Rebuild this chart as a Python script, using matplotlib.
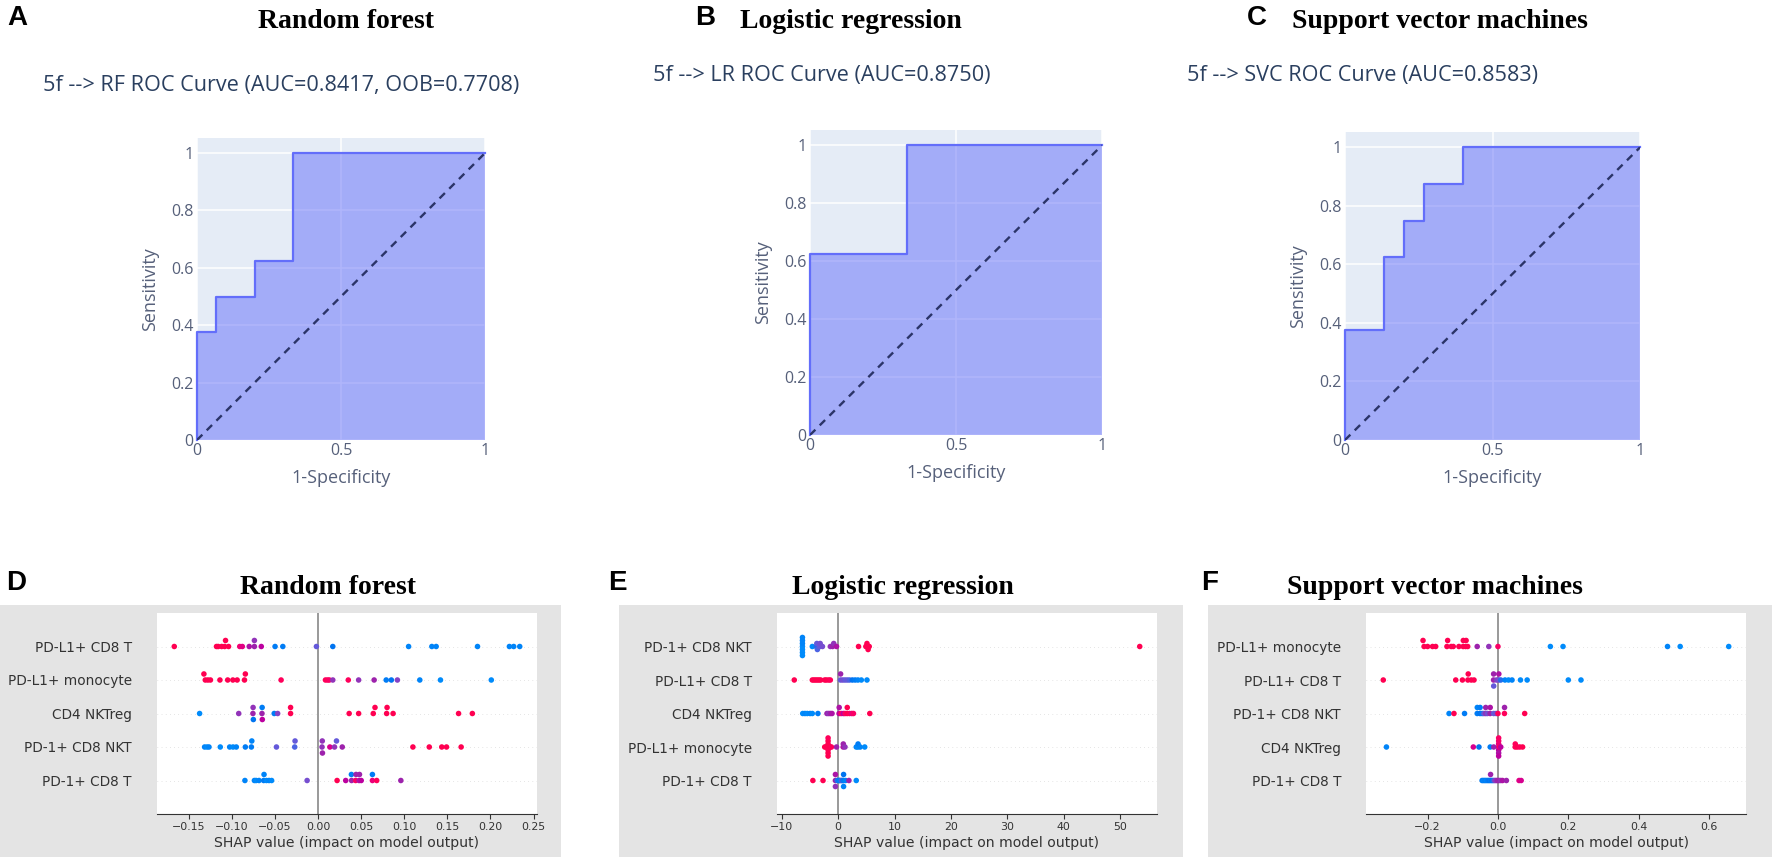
import numpy as np
import matplotlib
matplotlib.use("Agg")
import matplotlib.pyplot as plt
from matplotlib.patches import Rectangle
from matplotlib.colors import ListedColormap

# ---------------- ROC data ----------------
rf_fpr = [0.0, 0.0, 0.0667, 0.0667, 0.2, 0.2, 0.3333, 0.3333, 1.0]
rf_tpr = [0.0, 0.375, 0.375, 0.5, 0.5, 0.625, 0.625, 1.0, 1.0]
lr_fpr = [0.0, 0.0, 0.3333, 0.3333, 1.0]
lr_tpr = [0.0, 0.625, 0.625, 1.0, 1.0]
svc_fpr = [0.0, 0.0, 0.1333, 0.1333, 0.2, 0.2, 0.2667, 0.2667, 0.4, 0.4, 1.0]
svc_tpr = [0.0, 0.375, 0.375, 0.625, 0.625, 0.75, 0.75, 0.875, 0.875, 1.0, 1.0]

rf_roc_title = "5f --> RF ROC Curve (AUC=0.8417, OOB=0.7708)"
lr_roc_title = "5f --> LR ROC Curve (AUC=0.8750)"
svc_roc_title = "5f --> SVC ROC Curve (AUC=0.8583)"

roc_yticks = [0, 0.2, 0.4, 0.6, 0.8, 1]
roc_yticklabels = ["0", "0.2", "0.4", "0.6", "0.8", "1"]
roc_xticks = [0, 0.5, 1]
roc_xticklabels = ["0", "0.5", "1"]

# ---------------- SHAP data (top row first) ----------------
rf_features = ["PD-L1+ CD8 T", "PD-L1+ monocyte", "CD4 NKTreg", "PD-1+ CD8 NKT", "PD-1+ CD8 T"]
rf_shap = [
    [-0.167, -0.118, -0.116, -0.112, -0.1085, -0.1075, -0.104, -0.091, -0.088, -0.080, -0.074, -0.074,
     -0.066, -0.050, -0.041, -0.002, 0.017, 0.105, 0.132, 0.137, 0.185, 0.222, 0.227, 0.234],
    [-0.131, -0.1326, -0.128, -0.125, -0.114, -0.105, -0.099, -0.094, -0.0855, -0.0845, -0.043, 0.0085,
     0.011, 0.013, 0.017, 0.035, 0.047, 0.065, 0.079, 0.085, 0.092, 0.118, 0.142, 0.201],
    [-0.1376, -0.0922, -0.0757, -0.0755, -0.0752, -0.0652, -0.0650, -0.0648, -0.051, -0.047, -0.032, -0.032,
     0.036, 0.047, 0.064, 0.066, 0.0795, 0.0800, 0.087, 0.163, 0.179],
    [-0.1318, -0.129, -0.1267, -0.1136, -0.1027, -0.0988, -0.095, -0.0845, -0.0775, -0.0770, -0.0484, -0.0272,
     -0.0268, 0.0045, 0.0048, 0.0050, 0.0136, 0.019, 0.0213, 0.028, 0.110, 0.129, 0.1435, 0.149, 0.166],
    [-0.085, -0.074, -0.072, -0.0686, -0.0632, -0.0628, -0.060, -0.057, -0.054, -0.0128, 0.022, 0.032,
     0.0388, 0.0386, 0.0435, 0.0440, 0.0475, 0.0480, 0.050, 0.063, 0.063, 0.068, 0.096],
]
rf_feature_value = [
    [1, 1, 1, 1, 1, 1, 1, 0.85, 0.75, 0.55, 0.5, 0.45, 0.6, 0.1, 0.1, 0.3, 0.15, 0.05, 0.05, 0.05, 0.05, 0.05, 0.05, 0.05],
    [1, 1, 1, 1, 1, 1, 1, 1, 1, 1, 0.95, 0.95, 0.95, 0.9, 0.45, 0.95, 0.45, 0.5, 0.1, 0.15, 0.4, 0.05, 0.0, 0.0],
    [0.0, 0.45, 0.5, 0.45, 0.15, 0.5, 0.1, 0.6, 0.1, 0.4, 1, 1, 1, 1, 1, 1, 1, 1, 1, 1, 1],
    [0.05, 0.0, 0.05, 0.0, 0.05, 0.0, 0.05, 0.1, 0.1, 0.05, 0.3, 0.25, 0.3, 0.45, 0.45, 0.5, 0.7, 0.45, 0.3, 0.5,
     1, 1, 1, 1, 1],
    [0.05, 0.05, 0.0, 0.05, 0.1, 0.05, 0.0, 0.05, 0.0, 0.35, 1.0, 0.6, 0.5, 0.1, 0.9, 0.5, 0.55, 0.5, 0.6, 0.8,
     0.1, 0.95, 0.5],
]
rf_xticks = [-0.15, -0.10, -0.05, 0.00, 0.05, 0.10, 0.15, 0.20, 0.25]

lr_features = ["PD-1+ CD8 NKT", "PD-L1+ CD8 T", "CD4 NKTreg", "PD-L1+ monocyte", "PD-1+ CD8 T"]
lr_shap = [
    [-6.35, -6.35, -6.35, -6.35, -6.35, -6.35, -6.35, -4.6, -3.9, -3.8, -3.7, -3.3, -3.2, -2.8, -1.4, -1.0,
     -0.8, -0.3, 3.6, 4.9, 5.1, 5.3, 5.5, 53.5],
    [-7.8, -4.6, -4.3, -4.0, -3.7, -3.4, -3.1, -2.4, -2.1, -1.7, -1.4, 0.4, 0.42, 0.8, 1.2, 1.6, 2.0, 2.5, 3.0,
     3.5, 4.1, 5.1],
    [-6.3, -5.9, -5.5, -5.0, -4.6, -3.6, -2.0, -1.7, -1.4, -1.1, 0.15, 0.17, 0.5, 0.9, 1.2, 1.58, 1.60, 2.0, 2.4,
     2.7, 5.6],
    [-2.4, -2.2, -2.0, -1.8, -1.8, -1.8, -1.8, -1.8, -1.8, -1.8, -1.6, -1.4, -1.2, -0.3, 0.88, 0.9, 1.2, 3.2, 3.5,
     3.52, 3.9, 4.7],
    [-4.5, -2.7, -0.5, -0.5, -0.5, -0.2, 0.1, 0.2, 0.4, 0.6, 0.75, 0.95, 0.95, 0.95, 1.3, 1.9, 3.2],
]
lr_feature_value = [
    [0.0, 0.05, 0.0, 0.05, 0.0, 0.05, 0.0, 0.0, 0.2, 0.3, 0.25, 0.3, 0.35, 0.35, 0.45, 0.5, 0.45, 0.55, 1, 1, 1,
     1, 1, 1],
    [1, 1, 1, 1, 1, 1, 1, 1, 1, 1, 0.95, 0.3, 0.5, 0.35, 0.3, 0.3, 0.25, 0.15, 0.1, 0.05, 0.0, 0.0],
    [0.0, 0.05, 0.0, 0.05, 0.0, 0.1, 0.5, 0.45, 0.5, 0.55, 0.6, 0.55, 0.9, 0.6, 0.9, 1, 1, 0.95, 0.8, 0.9, 1],
    [1, 1, 1, 1, 1, 0.95, 1, 1, 0.95, 1, 1, 1, 0.95, 0.5, 0.55, 0.5, 0.45, 0.05, 0.0, 0.1, 0.05, 0.0],
    [1, 1, 0.5, 0.55, 0.45, 0.2, 0.1, 0.1, 0.05, 0.3, 0.2, 0.1, 0.15, 0.05, 0.05, 0.5, 0.0],
]
lr_xticks = [-10, 0, 10, 20, 30, 40, 50]

svc_features = ["PD-L1+ monocyte", "PD-L1+ CD8 T", "PD-1+ CD8 NKT", "CD4 NKTreg", "PD-1+ CD8 T"]
svc_shap = [
    [-0.210, -0.213, -0.200, -0.186, -0.177, -0.145, -0.143, -0.133, -0.127, -0.111, -0.099, -0.0985, -0.092,
     -0.0905, -0.086, -0.059, -0.026, 0.0, 0.149, 0.185, 0.482, 0.518, 0.656],
    [-0.326, -0.120, -0.101, -0.0855, -0.0845, -0.076, -0.068, -0.0125, -0.0123, -0.0121, -0.004, 0.002, 0.0025,
     0.008, 0.020, 0.030, 0.040, 0.064, 0.083, 0.200, 0.236],
    [-0.139, -0.125, -0.095, -0.0590, -0.0588, -0.0510, -0.0508, -0.045, -0.040, -0.0350, -0.0348, -0.030,
     -0.0222, -0.0220, -0.012, -0.005, 0.0, 0.0185, 0.0187, 0.076],
    [-0.317, -0.070, -0.054, -0.022, -0.012, 0.002, 0.002, 0.002, 0.002, 0.002, 0.002, 0.002, 0.005, 0.008,
     0.0490, 0.0492, 0.055, 0.062, 0.070],
    [-0.045, -0.041, -0.037, -0.033, -0.029, -0.025, -0.021, -0.021, -0.017, -0.013, -0.009, -0.005, -0.001,
     0.003, 0.008, 0.013, 0.024, 0.060, 0.066],
]
svc_feature_value = [
    [1, 1, 1, 1, 1, 1, 1, 1, 1, 1, 1, 1, 1, 1, 1, 0.5, 0.45, 0.9, 0.0, 0.0, 0.05, 0.0, 0.0],
    [1, 1, 1, 1, 1, 1, 1, 0.5, 0.5, 0.3, 0.4, 0.35, 0.55, 0.2, 0.05, 0.0, 0.05, 0.0, 0.0, 0.0, 0.0],
    [0.05, 1.0, 0.1, 0.1, 0.05, 0.15, 0.1, 0.1, 0.3, 0.45, 0.5, 0.35, 0.5, 0.55, 0.3, 0.35, 0.95, 0.95, 0.5, 1],
    [0.05, 0.7, 0.15, 0.1, 0.5, 0.7, 0.8, 0.6, 0.85, 0.55, 0.9, 0.6, 0.95, 0.6, 0.95, 0.95, 1, 0.95, 1],
    [0.1, 0.05, 0.1, 0.05, 0.1, 0.15, 0.1, 0.5, 0.15, 0.2, 0.4, 0.45, 0.5, 0.5, 0.45, 0.55, 0.5, 0.75, 0.7],
]
svc_xticks = [-0.2, 0.0, 0.2, 0.4, 0.6]

shap_xlabel = "SHAP value (impact on model output)"

# ---------------- helpers ----------------
W, H = 1772, 859
fig = plt.figure(figsize=(W / 100, H / 100), dpi=100)
fig.patch.set_facecolor("white")


def axes_px(x0, y0, x1, y1):
    return fig.add_axes([x0 / W, 1 - y1 / H, (x1 - x0) / W, (y1 - y0) / H])


def text_px(x, y, s, **kw):
    fig.text(x / W, 1 - y / H, s, **kw)


def shap_red_blue():
    # LCh interpolation used by shap's red_blue colormap
    blue_lch = [54.0, 70.0, 4.6588]
    l_mid = 40.0
    red_lch = [54.0, 90.0, 0.35470565 + 2 * np.pi]
    n = 100
    L = np.concatenate([np.linspace(blue_lch[0], l_mid, n // 2), np.linspace(l_mid, red_lch[0], n // 2)])
    C = np.linspace(blue_lch[1], red_lch[1], n)
    h = np.linspace(blue_lch[2], red_lch[2], n)
    a = C * np.cos(h)
    b = C * np.sin(h)
    fy = (L + 16) / 116
    fxx = fy + a / 500
    fz = fy - b / 200

    def finv(t):
        return np.where(t ** 3 > 0.008856, t ** 3, (t - 16 / 116) / 7.787)

    X = 0.95047 * finv(fxx)
    Y = finv(fy)
    Z = 1.08883 * finv(fz)
    r = 3.2406 * X - 1.5372 * Y - 0.4986 * Z
    g = -0.9689 * X + 1.8758 * Y + 0.0415 * Z
    bb = 0.0557 * X - 0.2040 * Y + 1.0570 * Z
    rgb = np.stack([r, g, bb], -1)
    rgb = np.clip(rgb, 0, None)
    rgb = np.where(rgb > 0.0031308, 1.055 * np.power(rgb, 1 / 2.4) - 0.055, 12.92 * rgb)
    return ListedColormap(np.clip(rgb, 0, 1))


CMAP = shap_red_blue()


def swarm_offsets(vals, row_height=0.4, nbins=100):
    vals = np.asarray(vals, float)
    quant = np.round(nbins * (vals - vals.min()) / (vals.max() - vals.min() + 1e-8))
    inds = np.argsort(quant, kind="stable")
    layer, last = 0, -1
    ys = np.zeros(len(vals))
    for ind in inds:
        if quant[ind] != last:
            layer = 0
        ys[ind] = np.ceil(layer / 2) * ((layer % 2) * 2 - 1)
        layer += 1
        last = quant[ind]
    ys *= 0.9 * (row_height / np.max(ys + 1))
    return ys


ROC_FONT = "Open Sans"
ROC_TXT = "#2a3f5f"
ROC_TICK = "#56607a"


def roc_panel(box, fpr, tpr):
    x0, yt, x1, yb = box
    ax = axes_px(x0, yt, x1, yb)
    ax.set_facecolor("#E5ECF6")
    ax.set_xlim(0, 1)
    ax.set_ylim(0, 1.0526)
    ax.set_xticks(roc_xticks)
    ax.set_xticklabels(roc_xticklabels)
    ax.set_yticks(roc_yticks)
    ax.set_yticklabels(roc_yticklabels)
    ax.grid(True, color="white", lw=1.1)
    ax.set_axisbelow(True)
    for s in ax.spines.values():
        s.set_visible(False)
    ax.tick_params(length=0, labelsize=11.5, labelcolor=ROC_TICK, pad=2.5)
    for lab in ax.get_xticklabels() + ax.get_yticklabels():
        lab.set_fontfamily(ROC_FONT)
    ax.fill_between(fpr, tpr, 0, color="#636efa", alpha=0.5, lw=0, zorder=2)
    ax.plot(fpr, tpr, color="#636efa", lw=1.6, zorder=3, clip_on=False)
    ax.plot([0, 1], [0, 1], color="#2b3468", lw=1.7, ls=(0, (3.2, 2.6)), zorder=4)
    ax.set_xlabel("1-Specificity", fontsize=13, color=ROC_TICK, family=ROC_FONT, labelpad=7)
    ax.set_ylabel("Sensitivity", fontsize=13, color=ROC_TICK, family=ROC_FONT, labelpad=9)
    return ax


def shap_panel(bg, box, features, shap_rows, value_rows, xticks, fmt):
    bx0, by0, bx1, by1 = bg
    fig.add_artist(Rectangle((bx0 / W, 1 - by1 / H), (bx1 - bx0) / W, (by1 - by0) / H,
                             transform=fig.transFigure, facecolor="#e4e4e4", edgecolor="none", zorder=0))
    x0, yt, x1, yb = box
    ax = axes_px(x0, yt, x1, yb)
    ax.set_facecolor("white")
    n = len(features)
    ax.axvline(0, color="#999999", lw=1.4, zorder=-1)
    for i, (vals, fv) in enumerate(zip(shap_rows, value_rows)):
        pos = n - 1 - i
        ax.axhline(pos, color="#cccccc", lw=0.5, dashes=(1, 5), zorder=-1)
        ys = swarm_offsets(vals)
        ax.scatter(vals, pos + ys, c=fv, cmap=CMAP, vmin=0, vmax=1, s=16, lw=0, zorder=3)
    ax.set_ylim(-1, n)
    ax.set_yticks(range(n))
    ax.set_yticklabels(features[::-1], fontsize=9.8, color="#333333")
    ax.tick_params(axis="y", length=0, pad=18)
    ax.set_xticks(xticks)
    ax.set_xticklabels([fmt.format(t).replace("-", "\u2212") for t in xticks])
    ax.tick_params(axis="x", labelsize=7.9, color="#333333", labelcolor="#333333", length=3.5, width=0.8, pad=2)
    for side in ("top", "right", "left"):
        ax.spines[side].set_visible(False)
    ax.spines["bottom"].set_color("#333333")
    ax.set_xlabel(shap_xlabel, fontsize=10.1, color="#333333", labelpad=3)
    return ax


# ---------------- top row: ROC curves ----------------
roc_panel((197, 138, 485, 440), rf_fpr, rf_tpr)
roc_panel((810, 130, 1102, 435), lr_fpr, lr_tpr)
roc_panel((1345, 132, 1640, 440), svc_fpr, svc_tpr)

sub_kw = dict(fontsize=15.6, color=ROC_TXT, family=ROC_FONT, ha="left", va="center")
text_px(43, 85, rf_roc_title, **sub_kw)
text_px(653, 75, lr_roc_title, **sub_kw)
text_px(1187, 75, svc_roc_title, **sub_kw)

ttl_kw = dict(fontsize=20, fontweight="bold", family="Liberation Serif", ha="left", va="center", color="black")
let_kw = dict(fontsize=20, fontweight="bold", family="Liberation Sans", ha="center", va="center", color="black")
text_px(17, 18, "A", **let_kw)
text_px(258, 21, "Random forest", **ttl_kw)
text_px(705, 18, "B", **let_kw)
text_px(740, 21, "Logistic regression", **ttl_kw)
text_px(1257, 18, "C", **let_kw)
text_px(1292, 21, "Support vector machines", **ttl_kw)

# ---------------- bottom row: SHAP summaries ----------------
shap_panel((0, 605, 561, 857), (157, 613, 537, 814), rf_features, rf_shap, rf_feature_value, rf_xticks, "{:.2f}")
shap_panel((619, 605, 1183, 857), (777, 613, 1157, 814), lr_features, lr_shap, lr_feature_value, lr_xticks, "{:d}")
shap_panel((1208, 605, 1772, 857), (1366, 613, 1746, 814), svc_features, svc_shap, svc_feature_value, svc_xticks,
           "{:.1f}")

text_px(16, 583, "D", **let_kw)
text_px(240, 588, "Random forest", **ttl_kw)
text_px(617, 583, "E", **let_kw)
text_px(792, 588, "Logistic regression", **ttl_kw)
text_px(1210, 583, "F", **let_kw)
text_px(1287, 588, "Support vector machines", **ttl_kw)

fig.savefig("out.png", dpi=100, facecolor="white")
